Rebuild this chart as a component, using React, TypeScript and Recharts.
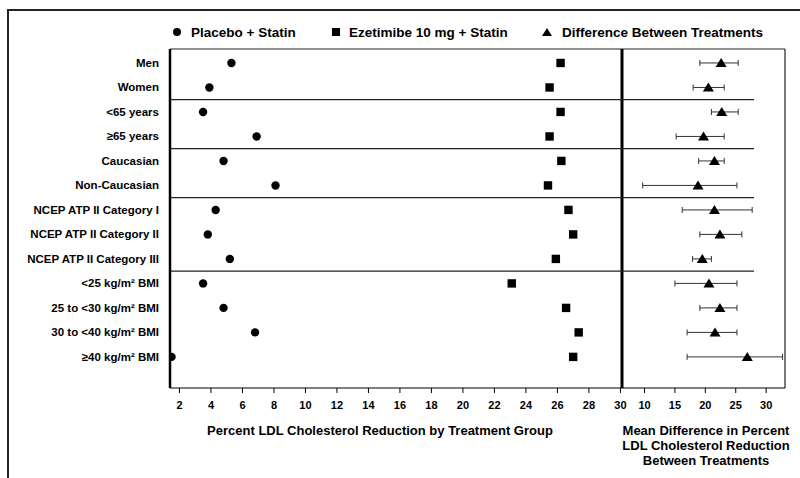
import React from 'react';
import { ScatterChart, Scatter, XAxis, YAxis, ErrorBar, ReferenceLine, Legend } from 'recharts';

const rowLabels = [
  'Men',
  'Women',
  '<65 years',
  '≥65 years',
  'Caucasian',
  'Non-Caucasian',
  'NCEP ATP II Category I',
  'NCEP ATP II Category II',
  'NCEP ATP II Category III',
  '<25 kg/m² BMI',
  '25 to <30 kg/m² BMI',
  '30 to <40 kg/m² BMI',
  '≥40 kg/m² BMI',
];

// percent LDL reduction by group
const placebo = [5.3, 3.9, 3.5, 6.9, 4.8, 8.1, 4.3, 3.8, 5.2, 3.5, 4.8, 6.8, 1.5];
const ezetimibe = [26.2, 25.5, 26.2, 25.5, 26.25, 25.4, 26.7, 27.0, 25.9, 23.1, 26.55, 27.35, 27.0];

// difference between treatments, mean with CI
const diffMean = [22.6, 20.5, 22.7, 19.7, 21.5, 18.8, 21.5, 22.4, 19.5, 20.6, 22.4, 21.6, 26.9];
const diffLow = [19.1, 18.0, 21.0, 15.2, 18.9, 9.7, 16.2, 19.1, 17.9, 15.0, 19.1, 17.0, 17.0];
const diffHigh = [25.4, 23.1, 25.4, 23.1, 23.1, 25.2, 27.7, 26.0, 21.0, 25.2, 25.2, 25.2, 32.7];

const leftTicks = [2, 4, 6, 8, 10, 12, 14, 16, 18, 20, 22, 24, 26, 28, 30];
const rightTicks = [10, 15, 20, 25, 30];
const groupBreaks = [1.5, 3.5, 5.5, 8.5];

const FONT = '"Liberation Sans", Arial, Helvetica, sans-serif';
const ROW_DOMAIN: [number, number] = [-0.57, 13.27];
const LEFT_DOMAIN: [number, number] = [1.4, 30.1];
const RIGHT_DOMAIN: [number, number] = [6.3, 33.1];

const rowIdx = rowLabels.map((_, i) => i);
const placeboData = rowIdx.map((i) => ({ x: placebo[i], row: i }));
const ezetimibeData = rowIdx.map((i) => ({ x: ezetimibe[i], row: i }));
const diffData = rowIdx.map((i) => ({
  x: diffMean[i],
  row: i,
  err: [diffMean[i] - diffLow[i], diffHigh[i] - diffMean[i]],
}));

const Circle = (p: any) => <circle cx={p.cx} cy={p.cy} r={4.2} fill="#000" />;
const Square = (p: any) => <rect x={p.cx - 4.2} y={p.cy - 4.2} width={8.4} height={8.4} fill="#000" />;
const Triangle = (p: any) => (
  <polygon
    points={`${p.cx - 5.5},${p.cy + 4} ${p.cx + 5.5},${p.cy + 4} ${p.cx},${p.cy - 5}`}
    fill="#000"
  />
);

const tickStyle = { fontSize: 11, fontWeight: 'bold', fill: '#000', fontFamily: FONT };

// row labels drawn as single-line text so they don't wrap
const RowTick = (p: any) => (
  <text
    x={159}
    y={p.y}
    dy={4}
    textAnchor="end"
    fontSize={11.5}
    fontWeight="bold"
    fontFamily={FONT}
    fill="#000"
  >
    {rowLabels[p.payload.value]}
  </text>
);

const LegendBox = () => (
  <svg width={800} height={24} style={{ display: 'block' }}>
    <circle cx={177} cy={12} r={4} fill="#000" />
    <text x={191} y={17} fontSize={13.5} fontWeight="bold" fontFamily={FONT} fill="#000">
      Placebo + Statin
    </text>
    <rect x={332} y={8} width={8} height={8} fill="#000" />
    <text x={349} y={17} fontSize={13.5} fontWeight="bold" fontFamily={FONT} fill="#000">
      Ezetimibe 10 mg + Statin
    </text>
    <polygon points="542,16 552,16 547,8" fill="#000" />
    <text x={562} y={17} fontSize={13.5} fontWeight="bold" fontFamily={FONT} fill="#000">
      Difference Between Treatments
    </text>
  </svg>
);

const LeftTitle = () => (
  <text x={380} y={435} textAnchor="middle" fontSize={13} fontWeight="bold" fontFamily={FONT} fill="#000">
    Percent LDL Cholesterol Reduction by Treatment Group
  </text>
);

const RightTitle = () => (
  <text textAnchor="middle" fontSize={13} fontWeight="bold" fontFamily={FONT} fill="#000">
    <tspan x={706} y={435}>Mean Difference in Percent</tspan>
    <tspan x={706} y={450}>LDL Cholesterol Reduction</tspan>
    <tspan x={706} y={465}>Between Treatments</tspan>
  </text>
);

export default function App() {
  return (
    <div
      style={{
        position: 'absolute',
        left: 0,
        top: 0,
        width: 800,
        height: 478,
        background: '#fff',
        fontFamily: FONT,
        overflow: 'hidden',
      }}
    >
      <div
        style={{
          position: 'absolute',
          left: 7,
          top: 9,
          width: 800,
          height: 480,
          borderTop: '2px solid #222',
          borderLeft: '2px solid #222',
        }}
      />
      <div style={{ position: 'absolute', left: 0, top: 0 }}>
        <ScatterChart width={800} height={478} margin={{ top: 49, right: 178, bottom: 60, left: 8 }}>
          <XAxis
            type="number"
            dataKey="x"
            domain={LEFT_DOMAIN}
            ticks={leftTicks}
            interval={0}
            allowDataOverflow
            tick={tickStyle}
            tickSize={5}
            tickMargin={8}
            axisLine={{ stroke: '#000', strokeWidth: 1.2 }}
            tickLine={{ stroke: '#000' }}
            label={LeftTitle}
          />
          <YAxis
            type="number"
            dataKey="row"
            domain={ROW_DOMAIN}
            reversed
            allowDataOverflow
            ticks={rowIdx}
            interval={0}
            width={162}
            tick={RowTick}
            tickLine={false}
            axisLine={{ stroke: '#000', strokeWidth: 2.5 }}
          />
          <ReferenceLine y={ROW_DOMAIN[0]} stroke="#222" strokeWidth={1.2} />
          <ReferenceLine x={LEFT_DOMAIN[1]} stroke="#000" strokeWidth={3} />
          {groupBreaks.map((b) => (
            <ReferenceLine key={b} y={b} stroke="#222" strokeWidth={1.2} />
          ))}
          <Scatter name="Placebo + Statin" data={placeboData} shape={Circle} isAnimationActive={false} />
          <Scatter name="Ezetimibe 10 mg + Statin" data={ezetimibeData} shape={Square} isAnimationActive={false} />
          <Legend verticalAlign="middle" content={LegendBox} wrapperStyle={{ top: 20, left: 0, width: 800 }} />
        </ScatterChart>
      </div>
      <div style={{ position: 'absolute', left: 0, top: 0 }}>
        <ScatterChart width={800} height={478} margin={{ top: 49, right: 15, bottom: 60, left: 622 }}>
          <XAxis
            type="number"
            dataKey="x"
            domain={RIGHT_DOMAIN}
            ticks={rightTicks}
            interval={0}
            allowDataOverflow
            tick={tickStyle}
            tickSize={5}
            tickMargin={8}
            axisLine={{ stroke: '#000', strokeWidth: 1.2 }}
            tickLine={{ stroke: '#000' }}
            label={RightTitle}
          />
          <YAxis type="number" dataKey="row" domain={ROW_DOMAIN} reversed allowDataOverflow hide />
          <ReferenceLine y={ROW_DOMAIN[0]} stroke="#222" strokeWidth={1.2} />
          <ReferenceLine x={RIGHT_DOMAIN[1]} stroke="#222" strokeWidth={1.2} />
          {groupBreaks.map((b) => (
            <ReferenceLine
              key={b}
              segment={[
                { x: RIGHT_DOMAIN[0], y: b },
                { x: 28, y: b },
              ]}
              stroke="#222"
              strokeWidth={1.2}
            />
          ))}
          <Scatter name="Difference Between Treatments" data={diffData} shape={Triangle} isAnimationActive={false}>
            <ErrorBar dataKey="err" direction="x" width={3} stroke="#333" strokeWidth={1} />
          </Scatter>
        </ScatterChart>
      </div>
    </div>
  );
}
